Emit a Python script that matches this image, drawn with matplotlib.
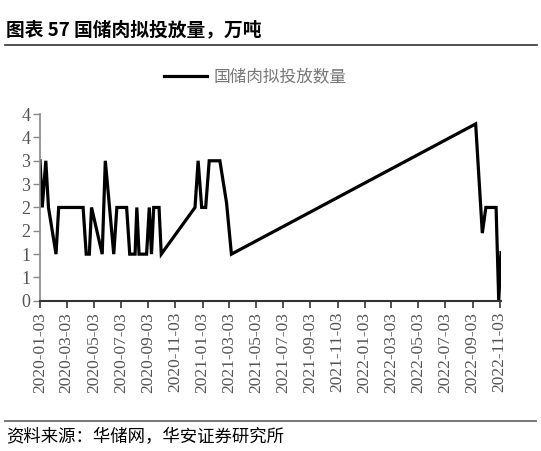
import matplotlib
matplotlib.use("Agg")
import matplotlib.pyplot as plt
import matplotlib.dates as mdates
from matplotlib.lines import Line2D
from matplotlib.ticker import FixedLocator, FuncFormatter
import numpy as np
import pandas as pd

plt.rcParams['font.family'] = ['Noto Sans CJK SC', 'DejaVu Sans']

# data (万吨)
dates = [
    "2020-01-03", "2020-01-08", "2020-01-16", "2020-01-22", "2020-02-08",
    "2020-02-14", "2020-04-09", "2020-04-16", "2020-04-23", "2020-04-28",
    "2020-05-22", "2020-05-29", "2020-06-17", "2020-06-24", "2020-07-16",
    "2020-07-23", "2020-08-04", "2020-08-08", "2020-08-13", "2020-08-30",
    "2020-09-05", "2020-09-10", "2020-09-15", "2020-09-27", "2020-10-02",
    "2020-12-17", "2020-12-24", "2021-01-01", "2021-01-10", "2021-01-18",
    "2021-02-11", "2021-02-26", "2021-03-09", "2022-09-10", "2022-09-25",
    "2022-10-03", "2022-10-26", "2022-11-01", "2022-11-06",
]
values = [
    3.0, 2.0, 3.0, 2.0, 1.0,
    2.0, 2.0, 1.0, 1.0, 2.0,
    1.0, 3.0, 1.0, 2.0, 2.0,
    1.0, 1.0, 2.0, 1.0, 1.0,
    2.0, 1.0, 2.0, 2.0, 1.0,
    2.0, 3.0, 2.0, 2.0, 3.0,
    3.0, 2.1, 1.0, 3.79, 1.45,
    2.0, 2.0, 0.0, 1.03,
]
series_name = "国储肉拟投放数量"
title = "图表 57 国储肉拟投放量，万吨"
source = "资料来源：华储网，华安证券研究所"

x = pd.to_datetime(dates)
tick_dates = pd.date_range("2020-01-01", periods=18, freq="2MS") + pd.Timedelta(days=2)
y_ticks = np.arange(0, 4.01, 0.5)

fig = plt.figure(figsize=(5.41, 4.51), dpi=100)

# full-figure overlay for the title/source rules
bg = fig.add_axes([0, 0, 1, 1], zorder=-1)
bg.set_xlim(0, 1)
bg.set_ylim(0, 1)
bg.axis("off")
bg.plot([0.009, 0.993], [0.900, 0.900], color="#333333", lw=1.2)
bg.plot([0.009, 0.99], [0.067, 0.067], color="#777777", lw=1.4)

ax = fig.add_axes([0.074, 0.333, 0.852, 0.414])
ax.plot(x, values, color="black", lw=2.3, solid_joinstyle="miter")

ax.set_xlim(pd.Timestamp("2020-01-03"), pd.Timestamp("2022-11-06"))
ax.set_ylim(0, 4)

serif = "Liberation Serif"
ax.xaxis.set_major_locator(FixedLocator(mdates.date2num(tick_dates)))
ax.xaxis.set_major_formatter(mdates.DateFormatter("%Y-%m-%d"))
ax.yaxis.set_major_locator(FixedLocator(y_ticks))
ax.yaxis.set_major_formatter(FuncFormatter(lambda v, p: str(int(v + 0.5))))

for lab in ax.get_xticklabels():
    lab.set_rotation(90)
    lab.set_fontfamily(serif)
    lab.set_fontsize(12.5)
    lab.set_color("#555555")
for lab in ax.get_yticklabels():
    lab.set_fontfamily(serif)
    lab.set_fontsize(13)
    lab.set_color("#555555")

ax.tick_params(axis="x", direction="out", length=5, width=1.2, color="#333333", pad=3)
ax.tick_params(axis="y", direction="out", length=5, width=1.0, color="#888888", pad=2)
for s in ["top", "right"]:
    ax.spines[s].set_visible(False)
ax.spines["left"].set_color("#888888")
ax.spines["left"].set_linewidth(1.2)
ax.spines["bottom"].set_color("#333333")
ax.spines["bottom"].set_linewidth(1.5)

# legend
handle = Line2D([], [], color="black", lw=2.3)
fig.legend([handle], [series_name], loc="center", bbox_to_anchor=(0.472, 0.829),
           frameon=False, handlelength=2.6, handletextpad=0.4,
           prop={"size": 12}, labelcolor="#777777")

# title and source
fig.text(0.012, 0.935, title, fontsize=13.5, fontweight="bold", ha="left", va="center")
fig.text(0.011, 0.031, source, fontsize=12.5, ha="left", va="center")

fig.savefig("out.png", dpi=100)
